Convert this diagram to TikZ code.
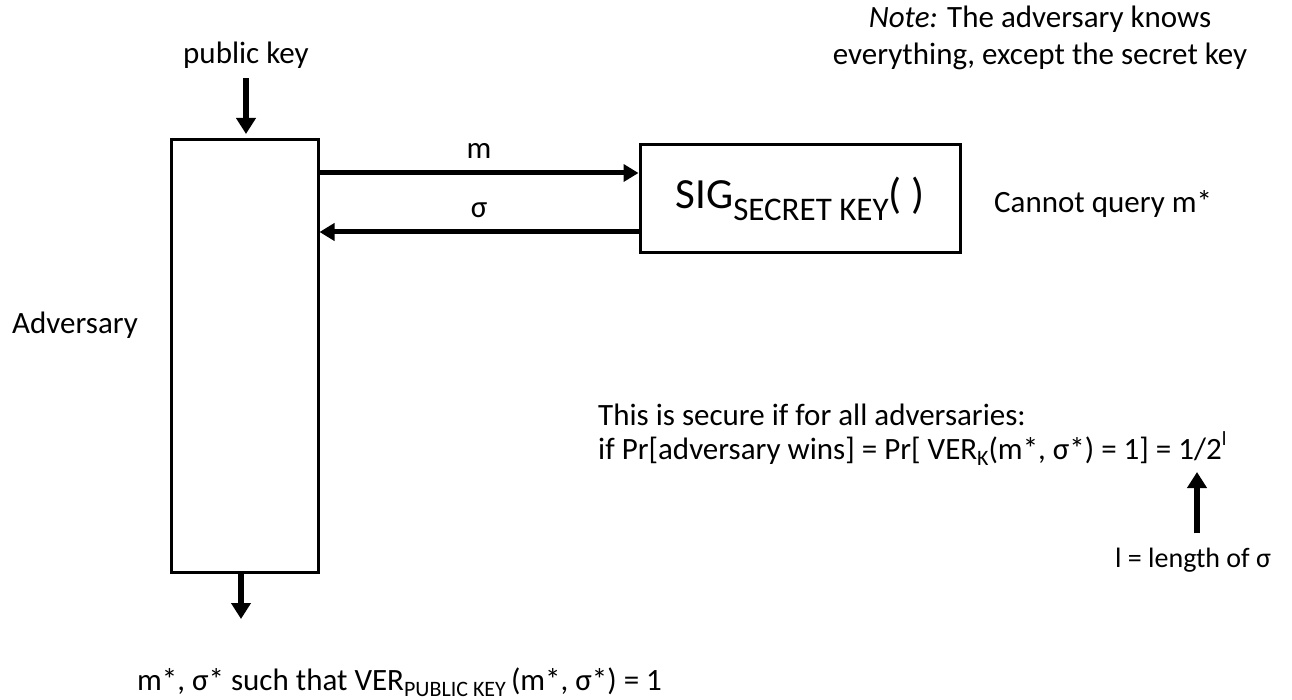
\documentclass[tikz,border=0pt]{standalone}
\usepackage{fontspec}
\setmainfont{Carlito}
\usetikzlibrary{arrows.meta}

% lowered, smaller text for subscripts: #1 size, #2 drop, #3 text
\newcommand{\lowsub}[3]{\raisebox{-#2}{\fontsize{#1}{#1}\selectfont #3}}
% raised, smaller text for superscripts
\newcommand{\highsup}[3]{\raisebox{#2}{\fontsize{#1}{#1}\selectfont #3}}

\tikzset{
  body/.style={font=\fontsize{31}{37}\selectfont, inner sep=0pt},
  frame/.style={draw, line width=3pt, fill=white},
  arr/.style={line width=5pt, -{Triangle[length=15pt,width=17pt]}},
  heavyarr/.style={line width=6pt, -{Triangle[length=16pt,width=19pt]}},
}

\begin{document}
\begin{tikzpicture}[x=1pt,y=-1pt]
  \useasboundingbox (0,0) rectangle (1292,700);

  % the adversary and the signing oracle
  \node[frame, minimum width=147pt, minimum height=432pt] (adv) at (244.5,356) {};
  \node[frame, minimum width=320pt, minimum height=108pt] (sig) at (800,199)
    {\fontsize{43}{50}\selectfont SIG\lowsub{33pt}{0.28em}{SECRET KEY}( )};

  % labels
  \node[body] (pk) at (246,55) {public key};
  \node[body] (advlabel) at (75,325) {Adversary};
  \node[body, anchor=base west] (noquery) at (994,213) {Cannot query m*};
  \node[body, align=center] (note) at (1040,38)
    {\textit{Note:} The adversary knows\\everything, except the secret key};
  \node[body, anchor=base west] (secure1) at (598,425) {This is secure if for all adversaries:};
  \node[body, anchor=base west] (secure2) at (598,459)
    {if Pr[adversary wins] = Pr[ VER\lowsub{22pt}{0.22em}{K}(m*, σ*) = 1] = 1/2\highsup{20pt}{0.45em}{l}};
  \node[body, font=\fontsize{28}{34}\selectfont, anchor=base west] (len) at (1115,567) {l = length of σ};
  \node[body, anchor=base west] (result) at (137,690)
    {m*, σ* such that VER\lowsub{22pt}{0.22em}{PUBLIC KEY}\,(m*, σ*) = 1};

  % connectors
  \coordinate (pkfoot) at (246,134);
  \draw[heavyarr] ([yshift=-10pt]pk.south) -- (pkfoot);

  \coordinate (mfrom) at (adv.east |- 0,173);
  \coordinate (mto) at (sig.west |- 0,173);
  \draw[arr] (mfrom) -- node[body, above=12pt] (mlabel) {m} (mto);

  \coordinate (sfrom) at (sig.west |- 0,232);
  \coordinate (sto) at (adv.east |- 0,232);
  \draw[arr] (sfrom) -- node[body, above=12pt] (slabel) {σ} (sto);

  \coordinate (outfoot) at (241,619);
  \draw[heavyarr] (adv.south -| outfoot) -- (outfoot);

  \coordinate (exptip) at (1197,472);
  \draw[heavyarr] ([yshift=14pt]len.north -| exptip) -- (exptip);
\end{tikzpicture}
\end{document}
